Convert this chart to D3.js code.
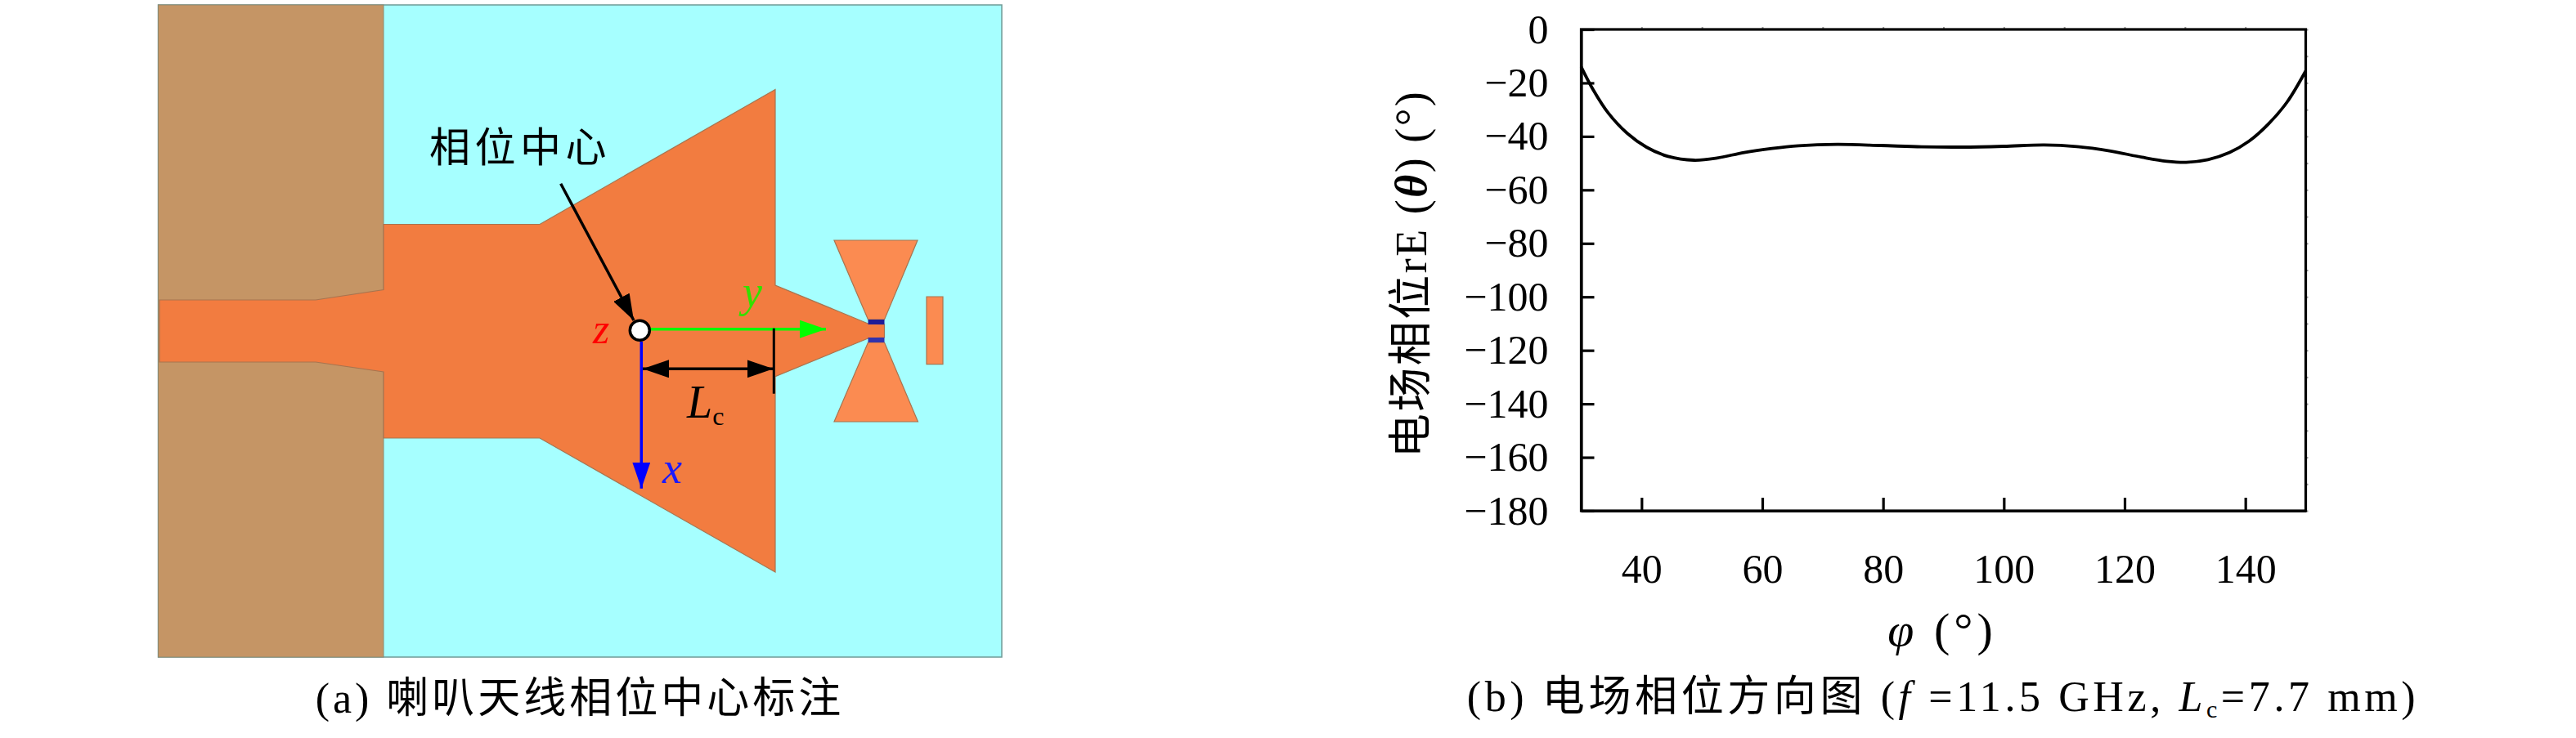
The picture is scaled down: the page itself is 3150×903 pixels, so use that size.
<!DOCTYPE html>
<html>
<head>
<meta charset="utf-8">
<script src="https://cdn.jsdelivr.net/npm/d3@7"></script>
<style>
body { margin: 0; background: #fff; }
text { font-family: "Liberation Serif", "Noto Sans CJK SC", serif; fill: #000; }
.axis path, .axis line { stroke: #000; stroke-width: 3.2; }
.minor path { display: none; }
.minor line { stroke: #999; stroke-width: 2; }
</style>
</head>
<body>
<div id="chart-container"></div>
<script>
// curve (b)
var phi = [30, 32, 34.5, 37.65, 40.8, 44.4, 48.7, 52.5, 57, 61.6, 66, 72.4, 79.6, 86.4, 93.1, 100, 106.7, 112.1, 117.5, 122.9, 127, 130.2, 133.8, 137.4, 140.6, 143.8, 146.9, 150];
var phase = [-14, -22.6, -31.3, -38.9, -44, -47.5, -48.9, -48.1, -46, -44.5, -43.5, -43, -43.4, -43.9, -44, -43.7, -43.2, -43.8, -45.4, -47.8, -49.3, -49.7, -48.7, -46, -41.8, -35.4, -27.2, -15.5];
var xTicks = [40, 60, 80, 100, 120, 140];
var yTicks = [0, -20, -40, -60, -80, -100, -120, -140, -160, -180];
var xMinor = [40, 50, 60, 70, 80, 90, 100, 110, 120, 130, 140];
var yMinor = d3.range(0, -190, -10);

// antenna outlines (a), in panel units
var horn = [[1.5,361],[192.5,361],[275.5,348.5],[275.5,268.5],[466.5,268.5],[754.5,103.5],[754.5,343],[868,390],[888,391],[888,407],[868,408],[754.5,454.7],[754.5,694],[466.5,530],[275.5,530],[275.5,449],[192.5,437],[1.5,437]];
var bowtieTop = [[826.5,288],[928.5,288],[888,385],[868,385]];
var bowtieBottom = [[868,413],[888,413],[929,510],[826.5,510]];
var director = [[939.5,357],[959.5,357],[959.5,439.7],[939.5,439.7]];
var feedGaps = [[[868,385],[888,385],[888,391],[868,391]], [[868,407],[888,407],[888,413],[868,413]]];
var gapColors = ["#1f1c96", "#3232ac"];

var width = 3150, height = 903;
var svg = d3.select("#chart-container").append("svg")
    .attr("width", width)
    .attr("height", height)
    .style("display", "block");

var defs = svg.append("defs");
function addHead(id, color) {
    defs.append("marker").attr("id", id)
        .attr("viewBox", "0 0 32 22")
        .attr("markerUnits", "userSpaceOnUse")
        .attr("markerWidth", 32).attr("markerHeight", 22)
        .attr("refX", 32).attr("refY", 11)
        .attr("orient", "auto-start-reverse")
        .append("path").attr("d", "M0,0L32,11L0,22Z").attr("fill", color);
}
addHead("head-black", "#000");
addHead("head-green", "#00ff00");
addHead("head-blue", "#0000ff");

// ---- panel (a)
var px = d3.scaleLinear().domain([0, 1031.5]).range([193.5, 1225]);
var py = d3.scaleLinear().domain([0, 798]).range([6, 804]);
var outline = d3.line().x(function(d) { return px(d[0]); }).y(function(d) { return py(d[1]); }).curve(d3.curveLinearClosed);

var a = svg.append("g");
a.append("rect").attr("x", px(0)).attr("y", py(0))
    .attr("width", px(1031.5) - px(0)).attr("height", py(798) - py(0))
    .attr("fill", "#a6ffff").attr("stroke", "#6f9a96").attr("stroke-width", 1.5);
a.append("rect").attr("x", px(0)).attr("y", py(0))
    .attr("width", px(275.5) - px(0)).attr("height", py(798) - py(0))
    .attr("fill", "#c59565").attr("stroke", "#8f8a70").attr("stroke-width", 1);

a.append("path").attr("d", outline(horn)).attr("fill", "#f27c40").attr("stroke", "#a8744f").attr("stroke-width", 1.2);
[bowtieTop, bowtieBottom, director].forEach(function(s) {
    a.append("path").attr("d", outline(s)).attr("fill", "#fb8b51").attr("stroke", "#a8744f").attr("stroke-width", 1.2);
});
feedGaps.forEach(function(s, i) {
    a.append("path").attr("d", outline(s)).attr("fill", gapColors[i]);
});

function arrow(x1, y1, x2, y2, color, head, both) {
    var l = a.append("line")
        .attr("x1", px(x1)).attr("y1", py(y1)).attr("x2", px(x2)).attr("y2", py(y2))
        .attr("stroke", color).attr("stroke-width", 3.5)
        .attr("marker-end", "url(#" + head + ")");
    if (both) l.attr("marker-start", "url(#" + head + ")");
    return l;
}
arrow(590.5, 396.7, 816.5, 396.7, "#00ff00", "head-green");
arrow(590.8, 412, 590.8, 591.7, "#0000ff", "head-blue");
arrow(492.2, 218.8, 581.5, 386, "#000", "head-black");
arrow(592.5, 445.3, 752.2, 445.3, "#000", "head-black", true);
a.append("line").attr("x1", px(752.8)).attr("x2", px(752.8)).attr("y1", py(395.7)).attr("y2", py(475.7))
    .attr("stroke", "#000").attr("stroke-width", 3);
a.append("circle").attr("cx", px(588.8)).attr("cy", py(398.3)).attr("r", 12)
    .attr("fill", "#fff").attr("stroke", "#000").attr("stroke-width", 3.5);

function italic(x, y, str, color, size) {
    return svg.append("text").attr("x", x).attr("y", y)
        .attr("font-style", "italic").attr("font-size", size).style("fill", color).text(str);
}
italic(725, 420, "z", "#ff0000", 52);
italic(908, 375, "y", "#33e000", 54);
italic(810, 591, "x", "#1a1aff", 54);
var lc = italic(840, 511, "L", "#000", 56);
lc.append("tspan").attr("dy", 9).attr("font-size", 32).attr("font-style", "normal").text("c");

svg.append("text").attr("x", 525).attr("y", 198).attr("font-size", 50).attr("letter-spacing", 5.5).text("相位中心");
svg.append("text").attr("x", 709).attr("y", 872).attr("text-anchor", "middle")
    .attr("font-size", 52).attr("letter-spacing", 4).text("(a) 喇叭天线相位中心标注");

// ---- panel (b)
var x = d3.scaleLinear().domain([30, 150]).range([1933.5, 2819.5]);
var y = d3.scaleLinear().domain([-180, 0]).range([625, 36]);

var line = d3.line()
    .x(function(d, i) { return x(phi[i]); })
    .y(function(d) { return y(d); })
    .curve(d3.curveCatmullRom.alpha(0.5));

svg.append("g").attr("class", "minor")
    .attr("transform", "translate(0," + y(0) + ")")
    .call(d3.axisTop(x).tickValues(xMinor).tickSize(3).tickFormat(""));
svg.append("g").attr("class", "minor")
    .attr("transform", "translate(" + x(150) + ",0)")
    .call(d3.axisRight(y).tickValues(yMinor).tickSize(3).tickFormat(""));

svg.append("rect").attr("x", x(30)).attr("y", y(0))
    .attr("width", x(150) - x(30)).attr("height", y(-180) - y(0))
    .attr("fill", "none").attr("stroke", "#000").attr("stroke-width", 3.2);

var xAxis = d3.axisBottom(x).tickValues(xTicks).tickSizeInner(-16).tickSizeOuter(0).tickPadding(52);
var gx = svg.append("g").attr("class", "axis")
    .attr("transform", "translate(0," + y(-180) + ")")
    .call(xAxis);
gx.selectAll("text").attr("font-size", 50).attr("font-family", null);

var yAxis = d3.axisLeft(y).tickValues(yTicks).tickSizeInner(-16).tickSizeOuter(0).tickPadding(40)
    .tickFormat(function(d) { return d < 0 ? "\u2212" + (-d) : d; });
var gy = svg.append("g").attr("class", "axis")
    .attr("transform", "translate(" + x(30) + ",0)")
    .call(yAxis);
gy.selectAll("text").attr("font-size", 50).attr("font-family", null);

svg.append("path").datum(phase)
    .attr("fill", "none").attr("stroke", "#000").attr("stroke-width", 3.8)
    .attr("d", line);

var yl = svg.append("text")
    .attr("transform", "translate(1744,335) rotate(-90)")
    .attr("text-anchor", "middle").attr("font-size", 54).attr("letter-spacing", 2.5);
yl.append("tspan").text("电场相位rE (");
yl.append("tspan").attr("font-style", "italic").attr("font-weight", "bold").text("θ");
yl.append("tspan").text(") (°)");

var xl = svg.append("text").attr("x", 2375).attr("y", 790).attr("text-anchor", "middle").attr("font-size", 58).attr("letter-spacing", 5);
xl.append("tspan").attr("font-style", "italic").text("φ");
xl.append("tspan").text(" (°)");

var cap = svg.append("text").attr("x", 2376).attr("y", 870).attr("text-anchor", "middle").attr("font-size", 52).attr("letter-spacing", 4.6);
cap.append("tspan").text("(b) 电场相位方向图 (");
cap.append("tspan").attr("font-style", "italic").text("f");
cap.append("tspan").text(" =11.5 GHz, ");
cap.append("tspan").attr("font-style", "italic").text("L");
cap.append("tspan").attr("font-size", 30).attr("dy", 8).text("c");
cap.append("tspan").attr("dy", -8).text("=7.7 mm)");
</script>
</body>
</html>
